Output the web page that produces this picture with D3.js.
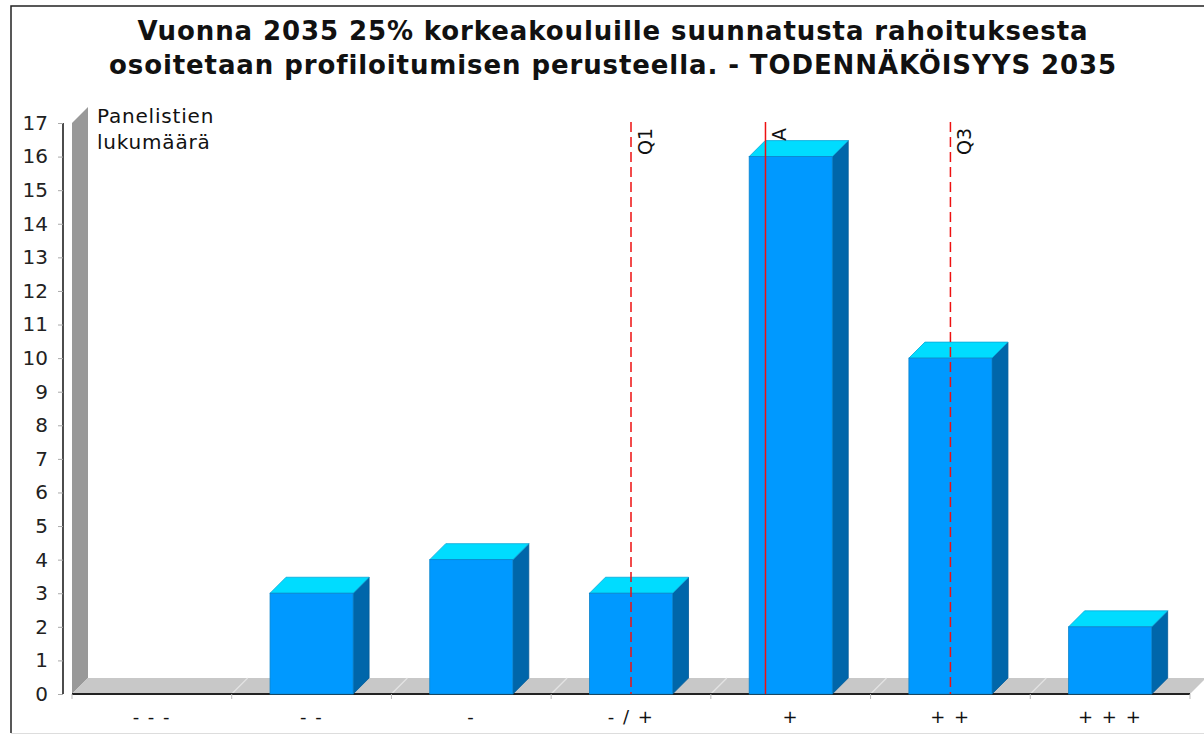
<!DOCTYPE html>
<html><head><meta charset="utf-8">
<script src="https://cdn.jsdelivr.net/npm/d3@7"></script>
<style>body{margin:0;background:#fff}svg{display:block}text{font-family:"DejaVu Sans",sans-serif}</style>
</head><body><svg id="c" width="1204" height="735"></svg>
<script>
const titleLines = ["Vuonna 2035 25% korkeakouluille suunnatusta rahoituksesta","osoitetaan profiloitumisen perusteella. - TODENNÄKÖISYYS 2035"];
const categories = ["- - -","- -","-","- / +","+","+ +","+ + +"];
const counts = [0,3,4,3,16,10,2];
const yTicks = d3.range(0,18);
const yLabel = ["Panelistien","lukumäärä"];
const markers = [{label:"Q1",value:4,dash:true},{label:"A",value:4.842,dash:false},{label:"Q3",value:6,dash:true}];

const svg = d3.select("#c");
const pLeft=72,pRight=1190,pBottom=694,pTop=123,dx=16,dy=16;
const x = d3.scaleBand().domain(categories).range([pLeft,pRight]).padding(0);
const y = d3.scaleLinear().domain([0,17]).range([pBottom,pTop]);
const xv = d3.scaleLinear().domain([1,7]).range([x(categories[0])+x.bandwidth()/2, x(categories[6])+x.bandwidth()/2]);

// frame
svg.append("path").attr("d","M11,733V6H1210").attr("fill","none").attr("stroke","#222").attr("stroke-width",1.5);
svg.append("line").attr("x1",11).attr("x2",1204).attr("y1",733.5).attr("y2",733.5).attr("stroke","#ddd").attr("stroke-width",1);

// title
svg.append("g").selectAll("text").data(titleLines).join("text")
  .attr("x",613).attr("y",(d,i)=>40+i*34).attr("text-anchor","middle")
  .attr("font-size",26).attr("font-weight","bold").attr("letter-spacing",0.9).attr("fill","#111").text(d=>d);

// wall
svg.append("path").attr("d",`M${pLeft},${pBottom}L${pLeft},${pTop}L${pLeft+dx},${pTop-dy}L${pLeft+dx},${pBottom-dy}Z`).attr("fill","#999");
// floor
svg.append("path").attr("d",`M${pLeft},${pBottom}L${pRight},${pBottom}L${pRight+dx},${pBottom-dy}L${pLeft+dx},${pBottom-dy}Z`).attr("fill","#c8c8c8");
// floor dividers
svg.append("g").selectAll("line").data(categories.slice(1)).join("line")
  .attr("x1",d=>x(d)).attr("x2",d=>x(d)+dx).attr("y1",pBottom).attr("y2",pBottom-dy)
  .attr("stroke","#e4e4e4").attr("stroke-width",1.2);

// y axis
const ya = svg.append("g").attr("transform",`translate(63,0)`).call(d3.axisLeft(y).tickValues(yTicks).tickSize(5).tickPadding(10));
ya.select(".domain").attr("stroke","#111").attr("stroke-width",1.5).attr("d",`M0,${pTop}V${pBottom}`);
ya.selectAll(".tick line").attr("stroke","#aaa");
ya.selectAll(".tick text").attr("font-size",20).attr("fill","#222").attr("font-family","DejaVu Sans");

svg.append("g").selectAll("text").data(yLabel).join("text")
  .attr("x",97).attr("y",(d,i)=>123+i*26).attr("font-size",20).attr("letter-spacing",0.8).attr("fill","#111").text(d=>d);

// x axis
svg.append("line").attr("x1",pLeft).attr("x2",pRight).attr("y1",pBottom).attr("y2",pBottom).attr("stroke","#222").attr("stroke-width",2);
svg.append("g").selectAll("line").data(categories.concat(["end"])).join("line")
  .attr("x1",(d,i)=>pLeft+i*x.bandwidth()).attr("x2",(d,i)=>pLeft+i*x.bandwidth()).attr("y1",pBottom).attr("y2",pBottom+5).attr("stroke","#bbb");
svg.append("g").selectAll("text").data(categories).join("text")
  .attr("x",d=>x(d)+x.bandwidth()/2).attr("y",723).attr("text-anchor","middle").attr("font-size",18).attr("letter-spacing",1.5).attr("fill","#111")
  .attr("xml:space","preserve").text(d=>d);

// bars
const bw = x.bandwidth()*0.52;
const bars = svg.append("g").selectAll("g").data(categories.map((c,i)=>({c,v:counts[i]})).filter(d=>d.v>0)).join("g");
bars.each(function(d){
  const g=d3.select(this);
  const x0=x(d.c)+x.bandwidth()/2-bw/2, x1=x0+bw, yt=y(d.v);
  g.append("path").attr("d",`M${x1},${pBottom}L${x1},${yt}L${x1+dx},${yt-dy}L${x1+dx},${pBottom-dy}Z`).attr("fill","#0066aa").attr("stroke","#005a99").attr("stroke-width",0.8);
  g.append("path").attr("d",`M${x0},${yt}L${x1},${yt}L${x1+dx},${yt-dy}L${x0+dx},${yt-dy}Z`).attr("fill","#00dcff").attr("stroke","#0aa8d8").attr("stroke-width",0.8);
  g.append("rect").attr("x",x0).attr("y",yt).attr("width",bw).attr("height",pBottom-yt).attr("fill","#0099ff").attr("stroke","#0a84cc").attr("stroke-width",0.8);
});

// marker lines
const mk = svg.append("g").selectAll("g").data(markers).join("g");
mk.append("line").attr("x1",d=>xv(d.value)).attr("x2",d=>xv(d.value)).attr("y1",pTop-1).attr("y2",pBottom)
  .attr("stroke","#ee1111").attr("stroke-width",1.5).attr("stroke-dasharray",d=>d.dash?"10,5":null);
mk.append("text").attr("transform",d=>`translate(${xv(d.value)+21},${128}) rotate(-90)`).attr("text-anchor","end")
  .attr("font-size",19).attr("fill","#111").text(d=>d.label);
</script></body></html>
